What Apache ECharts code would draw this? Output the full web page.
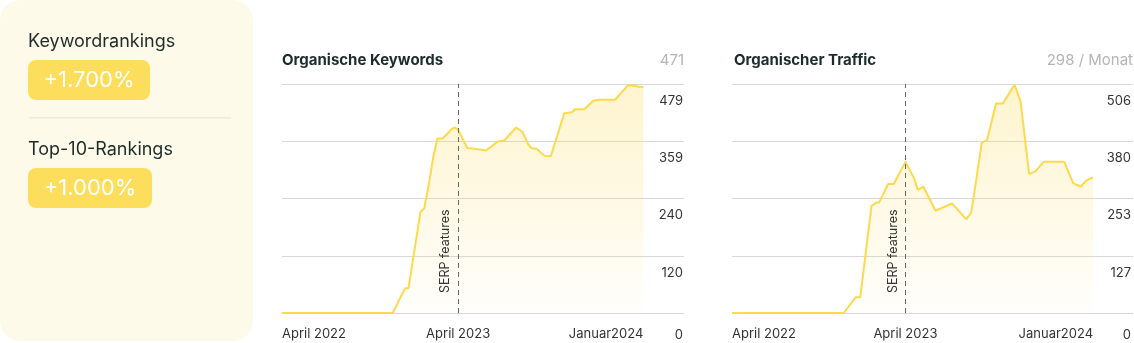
<!DOCTYPE html>
<html>
<head>
<meta charset="utf-8">
<script src="https://cdn.jsdelivr.net/npm/echarts@6/dist/echarts.min.js"></script>
<style>
  html, body { margin: 0; padding: 0; background: #ffffff; }
  #chart { width: 1134px; height: 343px; }
</style>
</head>
<body>
<div id="chart"></div>
<script>
// ---- data ----
const xLabelTexts = ['April 2022', 'April 2023', 'Januar2024'];
const keywordLabelWeeks = [0, 46.8, 96];
const trafficLabelWeeks = [0, 46.1, 96];

const keywordWeeks = [0, 29.4, 32.7, 33.6, 36.8, 37.8, 38.9, 40.2, 41.3, 42.7, 45.1, 46.0, 46.8, 49.2, 51.7, 54.2, 57.2, 59.2, 62.2, 63.9, 65.4, 66.3, 67.7, 69.7, 71.4, 75.0, 77.0, 77.8, 80.3, 82.7, 84.1, 88.5, 92.0, 96];
const keywordValues = [0, 0, 52, 52, 212, 219, 264, 327, 365, 365, 385, 388, 383, 345, 343, 340, 358, 362, 388, 379, 353, 345, 343, 329, 328, 418, 420, 426, 426, 444, 446, 446, 477, 472];

const trafficWeeks = [0, 29.7, 32.9, 34.1, 37.1, 38.4, 39.1, 41.5, 43.0, 46.1, 48.4, 49.4, 50.9, 54.1, 58.5, 62.3, 63.6, 66.4, 67.8, 70.2, 72.0, 75.1, 76.7, 79.0, 80.8, 82.8, 88.3, 90.7, 92.7, 94.1, 96];
const trafficValues = [0, 0, 35, 35, 237, 244, 244, 285, 285, 334, 298, 272, 279, 226, 242, 207, 222, 376, 382, 463, 463, 504, 468, 307, 314, 334, 334, 287, 279, 292, 300];

const keywordAxisMax = 479;
const trafficAxisMax = 506;
const keywordMarkerWeek = 46.8;
const trafficMarkerWeek = 46.1;
const markerText = 'SERP features';

const summaryItems = [
  { label: 'Keywordrankings', value: '+1.700%' },
  { label: 'Top-10-Rankings', value: '+1.000%' }
];
const chartTitles = ['Organische Keywords', 'Organischer Traffic'];
const chartHeadlines = ['471', '298 / Monat'];

// ---- chart ----
const FONT = 'Inter, "Noto Sans", sans-serif';
const LINE = '#fdd94e';
const chart = echarts.init(document.getElementById('chart'), null, { renderer: 'canvas' });

function pairs(xs, ys) { return xs.map((x, i) => [x, ys[i]]); }

function xAxisCfg(gridIndex, max, labelWeeks) {
  return {
    type: 'value', gridIndex: gridIndex, min: 0, max: max,
    axisLine: { show: false }, axisTick: { show: false }, splitLine: { show: false },
    axisLabel: {
      customValues: labelWeeks,
      margin: 15,
      fontFamily: FONT, fontSize: 13, color: '#333333',
      formatter: function (v) {
        const i = labelWeeks.indexOf(v);
        const key = i === 0 ? 'l' : (i === labelWeeks.length - 1 ? 'r' : 'c');
        return '{' + key + '|' + xLabelTexts[i] + '}';
      },
      rich: {
        l: { width: 90, align: 'left', padding: [0, 0, 0, 90], fontFamily: FONT, fontSize: 13, color: '#333333' },
        c: { fontFamily: FONT, fontSize: 13, color: '#333333' },
        r: { width: 90, align: 'right', padding: [0, 90, 0, 0], fontFamily: FONT, fontSize: 13, color: '#333333' }
      }
    }
  };
}

function yAxisCfg(gridIndex, max, margin) {
  return {
    type: 'value', gridIndex: gridIndex, position: 'right', min: 0, max: max, interval: max / 4,
    axisLine: { show: false }, axisTick: { show: false },
    splitLine: { show: true, lineStyle: { color: '#d8d8d8', width: 1 } },
    axisLabel: {
      inside: true, margin: margin, verticalAlign: 'top',
      formatter: function (v) {
        const r = Math.round(v);
        return r === 0 ? '{z|0}' : '{v|' + r + '}';
      },
      rich: {
        v: { padding: [20, 0, 0, 0], lineHeight: 14, fontFamily: FONT, fontSize: 13, color: '#333333' },
        z: { padding: [30, 0, 0, 0], lineHeight: 14, fontFamily: FONT, fontSize: 13, color: '#333333' }
      }
    }
  };
}

function seriesCfg(idx, data, markerWeek) {
  return {
    type: 'line', xAxisIndex: idx, yAxisIndex: idx, data: data,
    showSymbol: false, smooth: false, animation: false,
    lineStyle: { color: LINE, width: 2 },
    itemStyle: { color: LINE },
    areaStyle: {
      color: new echarts.graphic.LinearGradient(0, 0, 0, 1, [
        { offset: 0, color: 'rgba(253,214,70,0.38)' },
        { offset: 1, color: 'rgba(253,214,70,0.03)' }
      ])
    },
    markLine: {
      silent: true, symbol: 'none', animation: false,
      lineStyle: { color: '#666666', type: [5, 4], width: 1 },
      label: {
        show: true, formatter: markerText, position: 'insideStartTop',
        distance: [20, 6],
        fontFamily: FONT, fontSize: 12.5, color: '#333333'
      },
      data: [{ xAxis: markerWeek }]
    }
  };
}

const graphics = [
  { type: 'rect', shape: { x: 0, y: 0, width: 253, height: 341, r: 20 }, style: { fill: '#fefaea' }, silent: true },
  { type: 'rect', shape: { x: 29, y: 117, width: 202, height: 1.5 }, style: { fill: '#ecebe3' }, silent: true }
];
const badgeWidths = [122, 124];
const labelY = [42, 150];
const badgeY = [60, 168];
summaryItems.forEach(function (item, i) {
  graphics.push({ type: 'text', x: 28, y: labelY[i], style: { text: item.label, fill: '#1d2c2b', font: '18px ' + FONT, textVerticalAlign: 'middle' }, silent: true });
  graphics.push({ type: 'rect', shape: { x: 28, y: badgeY[i], width: badgeWidths[i], height: 40, r: 8 }, style: { fill: '#fddd5c' }, silent: true });
  graphics.push({ type: 'text', x: 28 + badgeWidths[i] / 2, y: badgeY[i] + 20, style: { text: item.value, fill: '#ffffff', font: '22px ' + FONT, textAlign: 'center', textVerticalAlign: 'middle' }, silent: true });
});

chart.setOption({
  animation: false,
  backgroundColor: '#ffffff',
  title: [
    { text: chartTitles[0], left: 282, top: 53, textStyle: { fontFamily: FONT, fontSize: 15, fontWeight: 'bold', color: '#1d2c2b' }, padding: 0 },
    { text: chartHeadlines[0], right: 450, top: 53, textStyle: { fontFamily: FONT, fontSize: 15, fontWeight: 'normal', color: '#b5b5b5' }, padding: 0 },
    { text: chartTitles[1], left: 734, top: 53, textStyle: { fontFamily: FONT, fontSize: 15, fontWeight: 'bold', color: '#1d2c2b' }, padding: 0 },
    { text: chartHeadlines[1], right: 1, top: 53, textStyle: { fontFamily: FONT, fontSize: 15, fontWeight: 'normal', color: '#b5b5b5' }, padding: 0 }
  ],
  grid: [
    { left: 282, right: 450, top: 84, bottom: 30, containLabel: false },
    { left: 732, right: 0, top: 84, bottom: 30, containLabel: false }
  ],
  xAxis: [
    xAxisCfg(0, 106.8, keywordLabelWeeks),
    xAxisCfg(1, 106.6, trafficLabelWeeks)
  ],
  yAxis: [
    yAxisCfg(0, keywordAxisMax, 1),
    yAxisCfg(1, trafficAxisMax, 2)
  ],
  series: [
    seriesCfg(0, pairs(keywordWeeks, keywordValues), keywordMarkerWeek),
    seriesCfg(1, pairs(trafficWeeks, trafficValues), trafficMarkerWeek)
  ],
  graphic: graphics
});
</script>
</body>
</html>
